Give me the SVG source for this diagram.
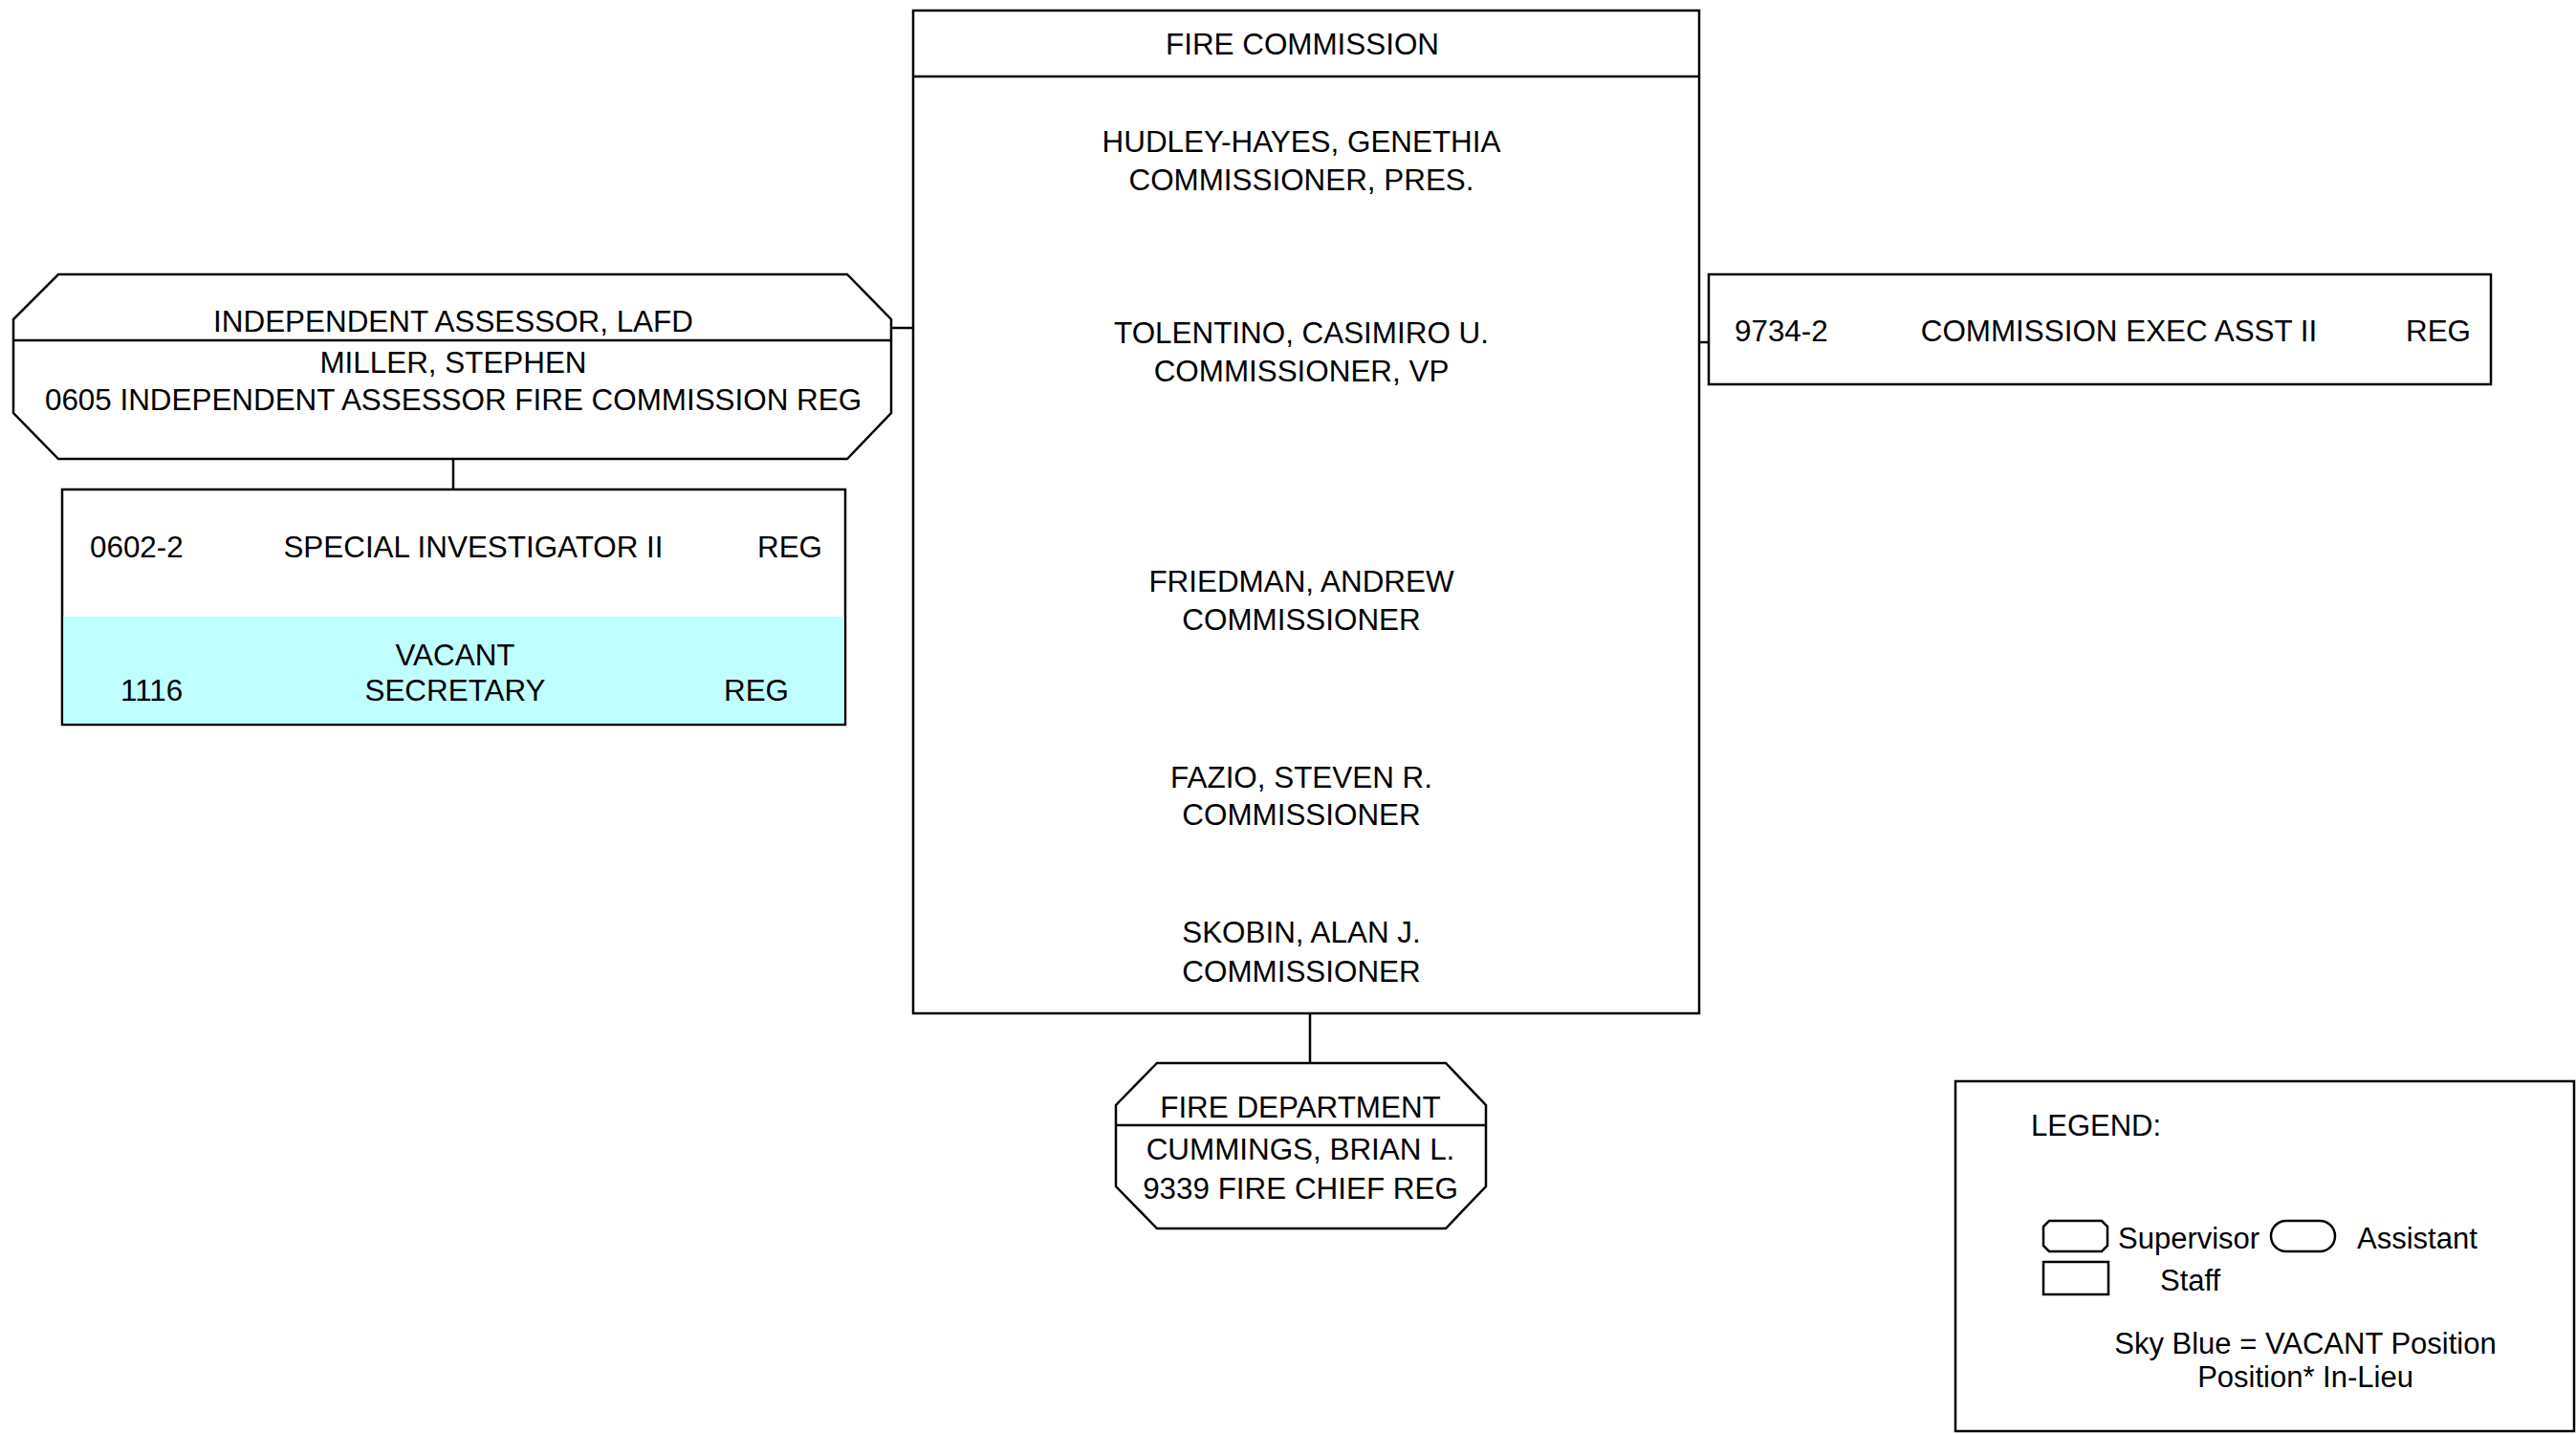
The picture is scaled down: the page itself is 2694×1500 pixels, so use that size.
<svg xmlns="http://www.w3.org/2000/svg" width="2694" height="1500" viewBox="0 0 2694 1500">
<style>
.s{fill:#fff;stroke:#000;stroke-width:2.5}
.v{fill:#bfffff;stroke:none}
.ln{stroke:#000;stroke-width:2.5;fill:none}
text{font-family:"Liberation Sans",Arial,sans-serif;font-size:31.4px;fill:#000}
.lg text{font-size:31px}
.c{text-anchor:middle}
.e{text-anchor:end}
</style>
<rect width="2694" height="1500" fill="#fff"/>
<g id="connectors">
<line class="ln" x1="932" y1="343" x2="962" y2="343"/>
<line class="ln" x1="474" y1="479" x2="474" y2="512"/>
<line class="ln" x1="1777" y1="358" x2="1787" y2="358"/>
<line class="ln" x1="1370" y1="1060" x2="1370" y2="1112"/>
</g>
<g id="fire-commission">
<rect class="s" x="955" y="11" width="822" height="1049"/>
<line class="ln" x1="955" y1="80" x2="1777" y2="80"/>
<text class="c" x="1362" y="57">FIRE COMMISSION</text>
<text class="c" x="1361" y="159">HUDLEY-HAYES, GENETHIA</text>
<text class="c" x="1361" y="199">COMMISSIONER, PRES.</text>
<text class="c" x="1361" y="359">TOLENTINO, CASIMIRO U.</text>
<text class="c" x="1361" y="399">COMMISSIONER, VP</text>
<text class="c" x="1361" y="619">FRIEDMAN, ANDREW</text>
<text class="c" x="1361" y="659">COMMISSIONER</text>
<text class="c" x="1361" y="824">FAZIO, STEVEN R.</text>
<text class="c" x="1361" y="863">COMMISSIONER</text>
<text class="c" x="1361" y="986">SKOBIN, ALAN J.</text>
<text class="c" x="1361" y="1027">COMMISSIONER</text>
</g>
<g id="independent-assessor">
<polygon class="s" points="61,287 886,287 932,334 932,432 886,480 61,480 14,432 14,334"/>
<line class="ln" x1="14" y1="356" x2="932" y2="356"/>
<text class="c" x="474" y="347">INDEPENDENT ASSESSOR, LAFD</text>
<text class="c" x="474" y="390">MILLER, STEPHEN</text>
<text class="c" x="474" y="429">0605 INDEPENDENT ASSESSOR FIRE COMMISSION REG</text>
</g>
<g id="investigator-staff">
<rect class="s" x="65" y="512" width="819" height="246"/>
<rect class="v" x="66.5" y="645" width="816" height="111.5"/>
<text x="94" y="583">0602-2</text>
<text class="c" x="495" y="583">SPECIAL INVESTIGATOR II</text>
<text class="e" x="860" y="583">REG</text>
<text class="c" x="476" y="696">VACANT</text>
<text x="126" y="733">1116</text>
<text class="c" x="476" y="733">SECRETARY</text>
<text class="e" x="825" y="733">REG</text>
</g>
<g id="exec-asst">
<rect class="s" x="1787" y="287" width="818" height="115"/>
<text x="1814" y="357">9734-2</text>
<text class="c" x="2216" y="357">COMMISSION EXEC ASST II</text>
<text class="e" x="2584" y="357">REG</text>
</g>
<g id="fire-department">
<polygon class="s" points="1210,1112 1512,1112 1554,1156 1554,1241 1512,1285 1210,1285 1167,1241 1167,1156"/>
<line class="ln" x1="1167" y1="1177" x2="1554" y2="1177"/>
<text class="c" x="1360" y="1169">FIRE DEPARTMENT</text>
<text class="c" x="1360" y="1213">CUMMINGS, BRIAN L.</text>
<text class="c" x="1360" y="1254">9339 FIRE CHIEF REG</text>
</g>
<g id="legend" class="lg">
<rect class="s" x="2045" y="1131" width="647" height="366"/>
<text x="2124" y="1188">LEGEND:</text>
<polygon class="s" points="2143,1277 2198,1277 2204,1283 2204,1303 2198,1309 2143,1309 2137,1303 2137,1283"/>
<text x="2215" y="1306">Supervisor</text>
<rect class="s" x="2375" y="1277" width="67" height="32" rx="16" ry="16"/>
<text x="2465" y="1306">Assistant</text>
<rect class="s" x="2137" y="1320" width="68" height="34"/>
<text x="2259" y="1350">Staff</text>
<text class="c" x="2411" y="1416">Sky Blue = VACANT Position</text>
<text class="c" x="2411" y="1451">Position* In-Lieu</text>
</g>
</svg>
